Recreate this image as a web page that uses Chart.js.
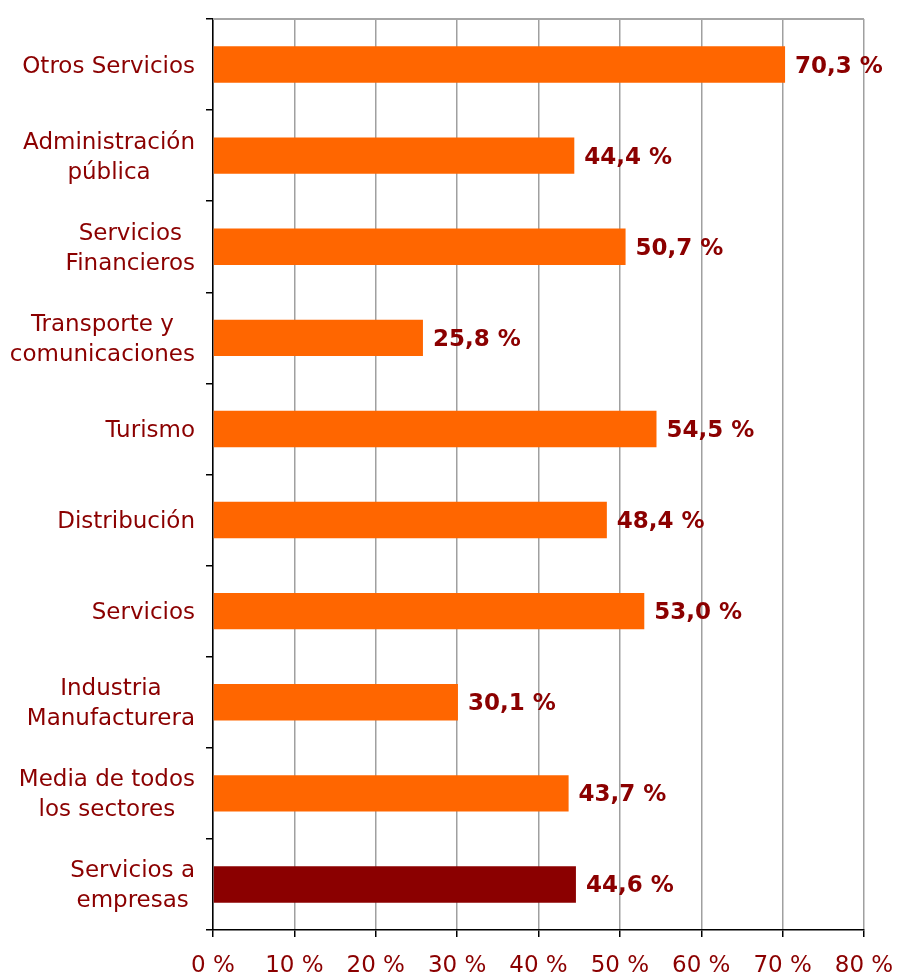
<!DOCTYPE html>
<html>
<head>
<meta charset="utf-8">
<script src="https://cdn.jsdelivr.net/npm/chart.js@4/dist/chart.umd.min.js"></script>
<style>
  html, body { margin: 0; padding: 0; background: #fff; }
  #wrap { width: 898px; height: 974px; }
</style>
</head>
<body>
<div id="wrap"><canvas id="chart" width="898" height="974"></canvas></div>
<script>
// sectors, top to bottom
const sectors = [
  ['Otros Servicios'],
  ['Administración', 'pública'],
  ['Servicios', 'Financieros'],
  ['Transporte y', 'comunicaciones'],
  ['Turismo'],
  ['Distribución'],
  ['Servicios'],
  ['Industria', 'Manufacturera'],
  ['Media de todos', 'los sectores'],
  ['Servicios a', 'empresas']
];
const shares = [70.3, 44.4, 50.7, 25.8, 54.5, 48.4, 53.0, 30.1, 43.7, 44.6];
const axisMin = 0;
const axisMax = 80;
const axisStep = 10;

const TEXT = '#8B0000';
const ORANGE = '#FF6600';
const FONT = '"DejaVu Sans", Verdana, sans-serif';

const barColors = shares.map((_, i) => i === shares.length - 1 ? '#8B0000' : ORANGE);

// Category labels: each block right-aligned to the axis, lines centred within it
const sectorLabels = {
  id: 'sectorLabels',
  afterDraw(chart) {
    const { ctx, chartArea } = chart;
    const yScale = chart.scales.y;
    ctx.save();
    ctx.font = '23px ' + FONT;
    ctx.fillStyle = TEXT;
    ctx.textAlign = 'center';
    ctx.textBaseline = 'middle';
    sectors.forEach((lines, i) => {
      const y = yScale.getPixelForValue(i);
      const w = Math.max(...lines.map(l => ctx.measureText(l).width));
      const cx = chartArea.left - 18 - w / 2;
      const lh = 30;
      lines.forEach((l, j) => {
        ctx.fillText(l, cx, y + 2 + (j - (lines.length - 1) / 2) * lh);
      });
    });
    ctx.restore();
  }
};

// Value labels at the end of each bar, plus grey top frame line
const valueLabels = {
  id: 'valueLabels',
  afterDatasetsDraw(chart) {
    const { ctx, chartArea } = chart;
    ctx.save();
    ctx.strokeStyle = '#A6A6A6';
    ctx.lineWidth = 2;
    ctx.beginPath();
    ctx.moveTo(chartArea.left, chartArea.top);
    ctx.lineTo(chartArea.right, chartArea.top);
    ctx.stroke();

    ctx.font = 'bold 23px ' + FONT;
    ctx.fillStyle = TEXT;
    ctx.textAlign = 'left';
    ctx.textBaseline = 'middle';
    chart.getDatasetMeta(0).data.forEach((bar, i) => {
      const txt = shares[i].toFixed(1).replace('.', ',') + ' %';
      ctx.fillText(txt, bar.x + 10, bar.y + 2);
    });
    ctx.restore();
  }
};

new Chart(document.getElementById('chart').getContext('2d'), {
  type: 'bar',
  data: {
    labels: sectors.map(s => s.join(' ')),
    datasets: [{
      data: shares,
      backgroundColor: barColors,
      borderWidth: 0,
      barPercentage: 0.4,
      categoryPercentage: 1
    }]
  },
  options: {
    indexAxis: 'y',
    responsive: false,
    animation: false,
    layout: { padding: { top: 19, right: 34, left: 0, bottom: 0 } },
    plugins: {
      legend: { display: false },
      tooltip: { enabled: false }
    },
    scales: {
      x: {
        min: axisMin,
        max: axisMax,
        afterFit(scale) {
          scale.height = 44;
          scale.paddingLeft = 0;
          scale.paddingRight = 0;
        },
        ticks: {
          stepSize: axisStep,
          callback: v => v + ' %',
          color: TEXT,
          font: { family: FONT, size: 23 },
          padding: 15
        },
        grid: {
          color: '#A0A0A0',
          lineWidth: 1.5,
          tickColor: '#000',
          tickLength: 7
        },
        border: { color: '#000', width: 1.5 }
      },
      y: {
        afterFit(scale) { scale.width = 213; },
        ticks: { display: false },
        grid: {
          offset: true,
          drawOnChartArea: false,
          tickColor: '#000',
          tickLength: 7,
          lineWidth: 1.5
        },
        border: { color: '#000', width: 1.5 }
      }
    }
  },
  plugins: [sectorLabels, valueLabels]
});
</script>
</body>
</html>
